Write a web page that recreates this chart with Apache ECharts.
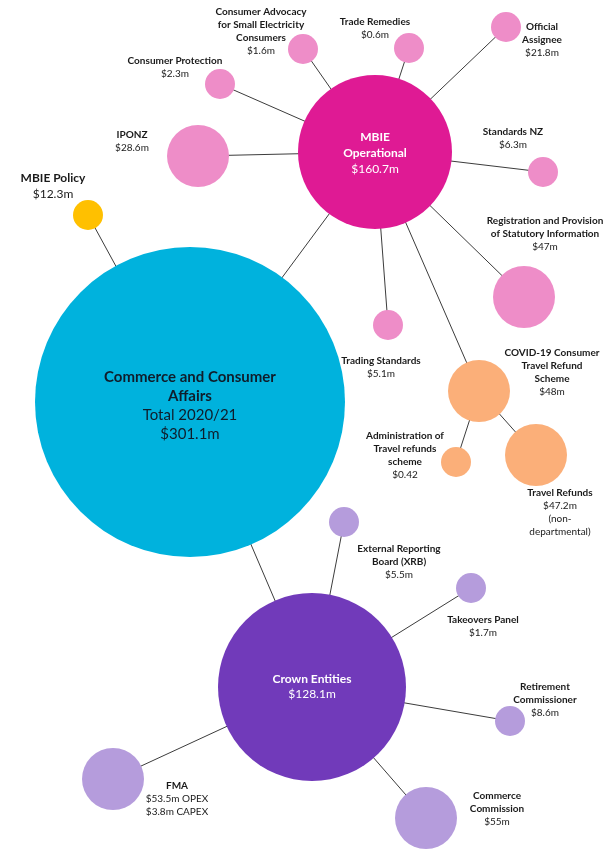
<!DOCTYPE html>
<html><head><meta charset="utf-8">
<script src="https://cdn.jsdelivr.net/npm/echarts@6/dist/echarts.min.js"></script>
<style>html,body{margin:0;padding:0;background:#fff}#c{width:615px;height:850px}</style>
</head><body><div id="c"></div>
<script>
// ---- Data ----
const nodeNames = [
  'Commerce and Consumer\nAffairs',
  'MBIE Policy',
  'MBIE\nOperational',
  'Crown Entities',
  'IPONZ',
  'Consumer Protection',
  'Consumer Advocacy\nfor Small Electricity\nConsumers',
  'Trade Remedies',
  'Official\nAssignee',
  'Standards NZ',
  'Registration and Provision\nof Statutory Information',
  'Trading Standards',
  'COVID-19 Consumer\nTravel Refund\nScheme',
  'Administration of\nTravel refunds\nscheme',
  'Travel Refunds',
  'External Reporting\nBoard (XRB)',
  'Takeovers Panel',
  'Retirement\nCommissioner',
  'Commerce\nCommission',
  'FMA'
];
const nodeValueLabels = [
  'Total 2020/21\n$301.1m',
  '$12.3m',
  '$160.7m',
  '$128.1m',
  '$28.6m',
  '$2.3m',
  '$1.6m',
  '$0.6m',
  '$21.8m',
  '$6.3m',
  '$47m',
  '$5.1m',
  '$48m',
  '$0.42',
  '$47.2m\n(non-\ndepartmental)',
  '$5.5m',
  '$1.7m',
  '$8.6m',
  '$55m',
  '$53.5m OPEX\n$3.8m CAPEX'
];
// parent index of each node (-1 = root)
const nodeParents = [-1, 0, 0, 0, 2, 2, 2, 2, 2, 2, 2, 2, 2, 12, 12, 3, 3, 3, 3, 3];
const nodeGroups = ['root', 'policy', 'mbie', 'crown', 'mbieSub', 'mbieSub', 'mbieSub', 'mbieSub', 'mbieSub', 'mbieSub', 'mbieSub', 'mbieSub', 'covid', 'covid', 'covid', 'crownSub', 'crownSub', 'crownSub', 'crownSub', 'crownSub'];

// ---- Layout (pixel positions, diameters, label offsets) ----
const layoutPos = [
  [190, 402], [88, 215], [375, 152], [312, 687], [198, 156], [220, 84], [303, 49], [409, 48],
  [506, 27], [543, 172], [524, 297], [388, 325], [479, 391], [456, 462], [536, 455],
  [344, 522], [471, 588], [510, 721], [426, 818], [113, 779]
];
const layoutSize = [310, 30, 154, 188, 62, 30, 30, 30, 30, 30, 62, 30, 62, 30, 62, 30, 30, 30, 62, 62];
const labelOffset = [
  [0, 4], [-35, -29], [0, 1], [0, 0], [-66, -15], [-45, -17], [-42, -18], [-34, -20],
  [36, 13], [-30, -34], [21, -63], [-7, 42], [73, -19], [-51, -7], [24, 57],
  [55, 40], [12, 38], [35, -21], [71, -9], [64, 20]
];
const groupStyle = {
  root:     { color: '#00B2DD', text: '#0f1d2b', fb: 15, fv: 15, lh: 19 },
  policy:   { color: '#FFC000', text: '#1a1a1a', fb: 12, fv: 12, lh: 16 },
  mbie:     { color: '#DF1A94', text: '#ffffff', fb: 12, fv: 12, lh: 16 },
  crown:    { color: '#713ABA', text: '#ffffff', fb: 12, fv: 12, lh: 15 },
  mbieSub:  { color: '#EE8DC8', text: '#1a1a1a', fb: 10, fv: 10, lh: 13 },
  covid:    { color: '#FBAF79', text: '#1a1a1a', fb: 10, fv: 10, lh: 13 },
  crownSub: { color: '#B59CDC', text: '#1a1a1a', fb: 10, fv: 10, lh: 13 }
};

function richLabel(i) {
  const b = nodeNames[i].split('\n').map(s => '{b|' + s + '}');
  const v = nodeValueLabels[i].split('\n').map(s => '{v|' + s + '}');
  return b.concat(v).join('\n');
}

const nodes = nodeNames.map((n, i) => {
  const g = groupStyle[nodeGroups[i]];
  return {
    name: 'n' + i,
    value: layoutPos[i],
    symbolSize: layoutSize[i],
    itemStyle: { color: g.color },
    label: {
      show: true,
      position: 'inside',
      offset: labelOffset[i],
      align: 'center',
      verticalAlign: 'middle',
      formatter: richLabel(i),
      rich: {
        b: { fontFamily: 'Lato', fontWeight: 'bold', fontSize: g.fb, lineHeight: g.lh, color: g.text, align: 'center' },
        v: { fontFamily: 'Lato', fontWeight: 'normal', fontSize: g.fv, lineHeight: g.lh, color: g.text, align: 'center' }
      }
    }
  };
});
const links = [];
nodeParents.forEach((p, i) => { if (p >= 0) links.push({ source: 'n' + p, target: 'n' + i }); });

const chart = echarts.init(document.getElementById('c'));
chart.setOption({
  animation: false,
  backgroundColor: '#ffffff',
  grid: { left: 0, right: 0, top: 0, bottom: 0 },
  xAxis: { type: 'value', min: 0, max: 615, show: false },
  yAxis: { type: 'value', min: 0, max: 850, inverse: true, show: false },
  series: [{
    type: 'graph',
    coordinateSystem: 'cartesian2d',
    layout: 'none',
    symbol: 'circle',
    data: nodes,
    links: links,
    lineStyle: { color: '#3c3c3c', width: 1, opacity: 1, curveness: 0 },
    emphasis: { disabled: true },
    z: 2
  }]
});
</script>
</body></html>
